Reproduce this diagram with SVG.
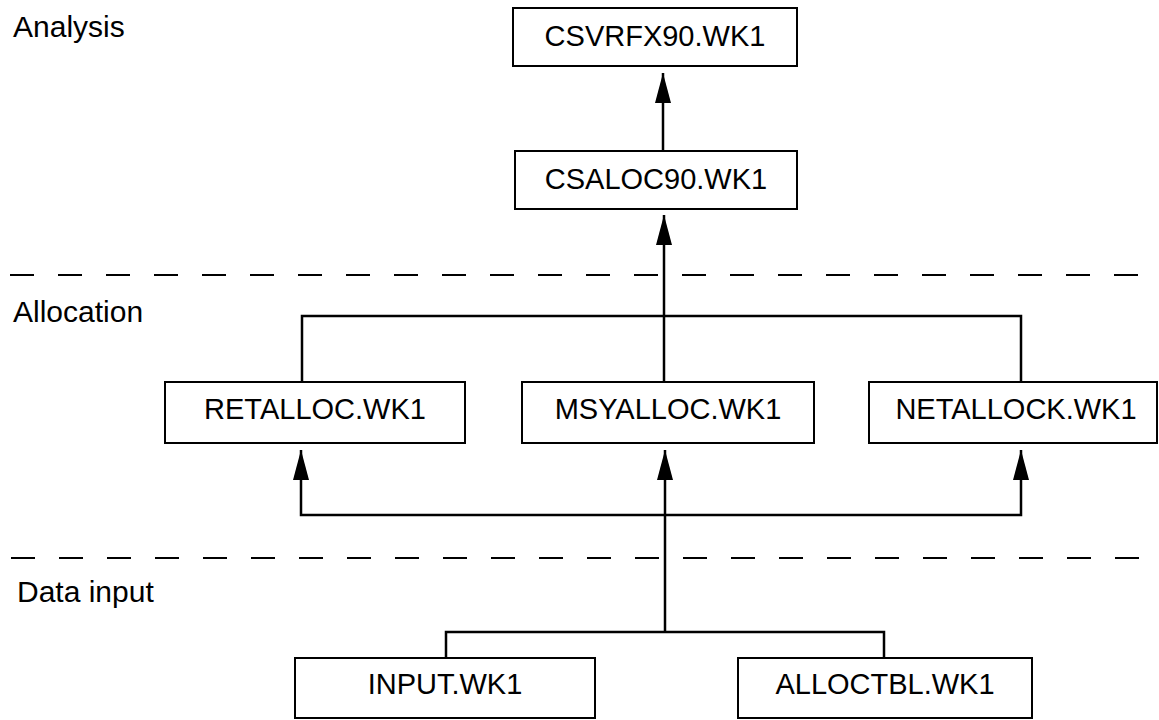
<svg xmlns="http://www.w3.org/2000/svg" width="1159" height="720" viewBox="0 0 1159 720">
<style>
.box{fill:#fff;stroke:#000;stroke-width:2}
.lbl{font-family:"Liberation Sans",Arial,Helvetica,sans-serif;font-size:30px;fill:#000}
.bt{font-family:"Liberation Sans",Arial,Helvetica,sans-serif;font-size:29px;fill:#000;text-anchor:middle}
.ln{fill:none;stroke:#000;stroke-width:2.5}
.dash{fill:none;stroke:#000;stroke-width:2;stroke-dasharray:24 24}
</style>
<defs>
<marker id="ah" markerUnits="userSpaceOnUse" markerWidth="30" markerHeight="16" viewBox="0 0 30 16" refX="30" refY="8" orient="auto">
<path d="M0 0 L30 8 L0 16 Z" fill="#000"/>
</marker>
</defs>
<g id="layers">
<text class="lbl" x="13" y="37">Analysis</text>
<line class="dash" x1="10" y1="275" x2="1159" y2="275"/>
<text class="lbl" x="13" y="322">Allocation</text>
<line class="dash" x1="11" y1="558" x2="1159" y2="558"/>
<text class="lbl" x="17" y="602">Data input</text>
</g>
<g id="connectors">
<path class="ln" d="M663 151 V73" marker-end="url(#ah)"/>
<path class="ln" d="M664 382 V215" marker-end="url(#ah)"/>
<path class="ln" d="M302 382 V316 H1021 V382"/>
<path class="ln" d="M665 632 V450" marker-end="url(#ah)"/>
<path class="ln" d="M665 515 H301 V450" marker-end="url(#ah)"/>
<path class="ln" d="M665 515 H1021 V450" marker-end="url(#ah)"/>
<path class="ln" d="M446 658 V632 H884 V658"/>
</g>
<g id="n-csvrfx90">
<rect class="box" x="513" y="8" width="284" height="58"/>
<text class="bt" x="655" y="46">CSVRFX90.WK1</text>
</g>
<g id="n-csaloc90">
<rect class="box" x="515" y="151" width="282" height="58"/>
<text class="bt" x="656" y="189">CSALOC90.WK1</text>
</g>
<g id="n-retalloc">
<rect class="box" x="165" y="382" width="300" height="61"/>
<text class="bt" x="315" y="419">RETALLOC.WK1</text>
</g>
<g id="n-msyalloc">
<rect class="box" x="522" y="382" width="292" height="61"/>
<text class="bt" x="668" y="419">MSYALLOC.WK1</text>
</g>
<g id="n-netallock">
<rect class="box" x="869" y="382" width="288" height="61"/>
<text class="bt" x="1016" y="419">NETALLOCK.WK1</text>
</g>
<g id="n-input">
<rect class="box" x="295" y="658" width="300" height="60"/>
<text class="bt" x="445" y="694">INPUT.WK1</text>
</g>
<g id="n-alloctbl">
<rect class="box" x="738" y="658" width="294" height="60"/>
<text class="bt" x="885" y="694">ALLOCTBL.WK1</text>
</g>
</svg>
